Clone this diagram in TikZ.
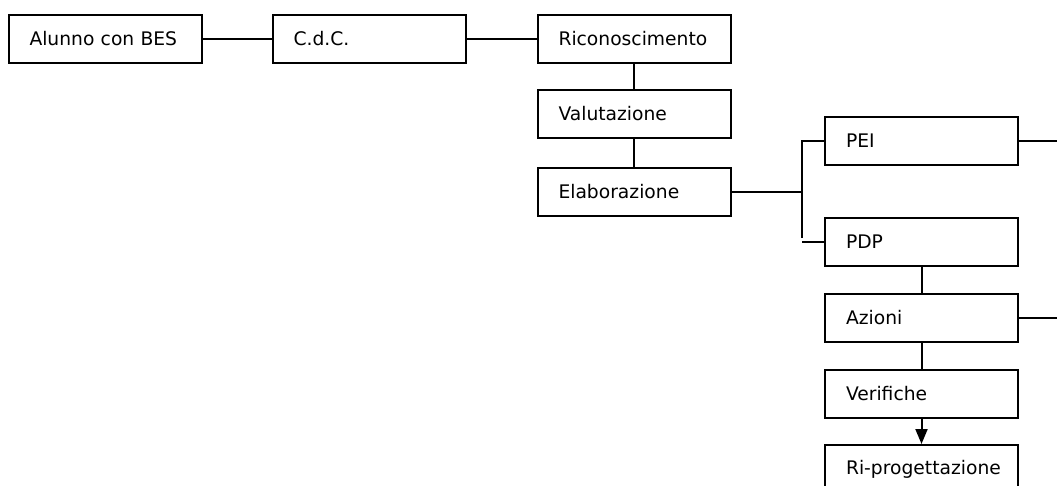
\documentclass[tikz,border=0pt]{standalone}
\usepackage{fontspec}
\setmainfont{DejaVu Sans}
\usetikzlibrary{arrows.meta}
\begin{document}
\begin{tikzpicture}[x=1pt,y=-1pt,
  box/.style={draw=black, line width=2pt, rectangle, minimum width=193pt, minimum height=48pt,
    inner xsep=21pt, inner ysep=0pt, text width=151pt, align=left,
    font=\fontsize{18.7}{22}\selectfont},
  conn/.style={draw=black, line width=2pt},
  arr/.style={conn, -{Triangle[width=12pt,length=15pt]}}]
\useasboundingbox (0,0) rectangle (1057,486);
\begin{scope}
\clip (0,0) rectangle (1057,486);
\node[box] (a) at (105,39) {Alunno con BES};
\node[box] (c) at (369,39) {C.d.C.};
\node[box] (r) at (634,39) {Riconoscimento};
\node[box] (v) at (634,114) {Valutazione};
\node[box] (e) at (634,192) {Elaborazione};
\node[box] (pei) at (921.5,141) {PEI};
\node[box] (pdp) at (921.5,242) {PDP};
\node[box] (az) at (921.5,318) {Azioni};
\node[box] (ver) at (921.5,394) {Verifiche};
\node[box] (ri) at (921.5,469) {\mbox{Ri-progettazione}};
\coordinate (bt) at (802,141);
\coordinate (bm) at (802,192);
\coordinate (bb) at (802,238);
\coordinate (bs) at (802,242);
\coordinate (peiR) at (1060,141);
\coordinate (azR) at (1060,318);
\draw[conn] (a.east) -- (c.west);
\draw[conn] (c.east) -- (r.west);
\draw[conn] (r.south) -- (v.north);
\draw[conn] (v.south) -- (e.north);
\draw[conn] (e.east) -- (bm);
\draw[conn] (pei.west) -- (bt) -- (bb);
\draw[conn] (bs) -- (pdp.west);
\draw[conn] (pdp.south) -- (az.north);
\draw[conn] (az.south) -- (ver.north);
\draw[arr] (ver.south) -- (ri.north);
\draw[conn] (pei.east) -- (peiR);
\draw[conn] (az.east) -- (azR);
\end{scope}
\end{tikzpicture}
\end{document}
